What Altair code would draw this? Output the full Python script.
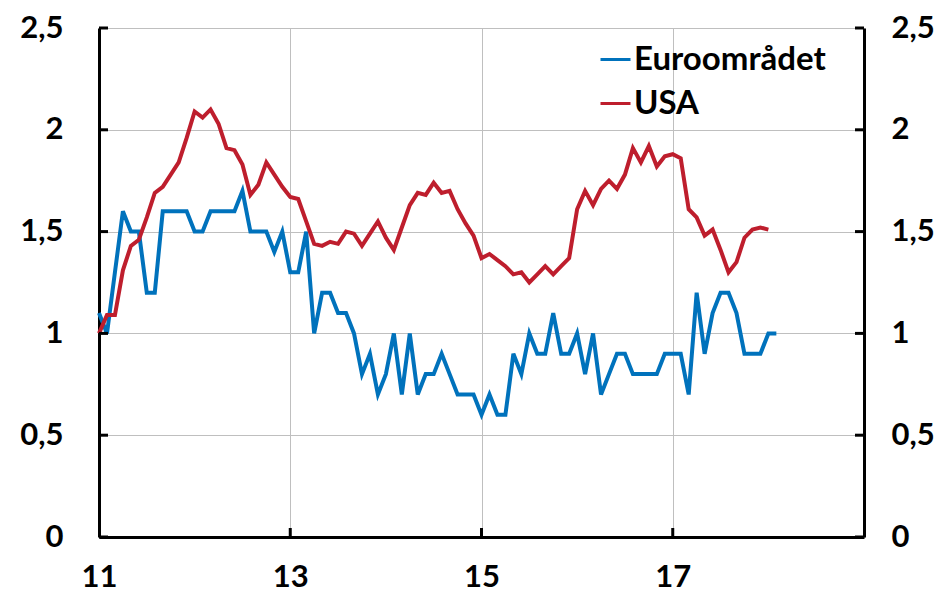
import altair as alt
import pandas as pd

# Monthly values, Jan 2011 onwards
euro = [1.1, 1.0, 1.3, 1.6, 1.5, 1.5, 1.2, 1.2, 1.6, 1.6, 1.6, 1.6,
        1.5, 1.5, 1.6, 1.6, 1.6, 1.6, 1.7, 1.5, 1.5, 1.5, 1.4, 1.5,
        1.3, 1.3, 1.5, 1.0, 1.2, 1.2, 1.1, 1.1, 1.0, 0.8, 0.9, 0.7,
        0.8, 1.0, 0.7, 1.0, 0.7, 0.8, 0.8, 0.9, 0.8, 0.7, 0.7, 0.7,
        0.6, 0.7, 0.6, 0.6, 0.9, 0.8, 1.0, 0.9, 0.9, 1.1, 0.9, 0.9,
        1.0, 0.8, 1.0, 0.7, 0.8, 0.9, 0.9, 0.8, 0.8, 0.8, 0.8, 0.9,
        0.9, 0.9, 0.7, 1.2, 0.9, 1.1, 1.2, 1.2, 1.1, 0.9, 0.9, 0.9,
        1.0, 1.0]
usa = [1.00, 1.09, 1.09, 1.31, 1.43, 1.46, 1.57, 1.69, 1.72, 1.78, 1.84, 1.96,
       2.09, 2.06, 2.10, 2.03, 1.91, 1.90, 1.83, 1.68, 1.73, 1.84, 1.78, 1.72,
       1.67, 1.66, 1.55, 1.44, 1.43, 1.45, 1.44, 1.50, 1.49, 1.43, 1.49, 1.55,
       1.47, 1.41, 1.52, 1.63, 1.69, 1.68, 1.74, 1.69, 1.70, 1.61, 1.54, 1.48,
       1.37, 1.39, 1.36, 1.33, 1.29, 1.30, 1.25, 1.29, 1.33, 1.29, 1.33, 1.37,
       1.61, 1.70, 1.63, 1.71, 1.75, 1.71, 1.78, 1.91, 1.84, 1.92, 1.82, 1.87,
       1.88, 1.86, 1.61, 1.57, 1.48, 1.51, 1.41, 1.30, 1.35, 1.47, 1.51, 1.52,
       1.51]
series_names = ["Euroområdet", "USA"]
colors = ["#0072BC", "#BE1E2D"]
x_ticks = [11, 13, 15, 17]
x_inner_ticks = [13, 15, 17]
y_ticks = [0, 0.5, 1, 1.5, 2, 2.5]
start_year = 11

rows = []
for name, vals in zip(series_names, [euro, usa]):
    for i, v in enumerate(vals):
        rows.append({"x": start_year + i / 12, "v": v, "s": name})
df = pd.DataFrame(rows)
ytick_df = pd.DataFrame({"v": y_ticks})
xtick_df = pd.DataFrame({"x": x_inner_ticks})

W, H = 765, 509
TL = 9  # inward tick length
FONT = "Lato"
FS = 31
LFS = 33
xs = alt.Scale(domain=[11, 19], nice=False, zero=False)
ys = alt.Scale(domain=[0, 2.5], nice=False, zero=True)
lab_expr = "replace(toString(datum.value), '.', ',')"

x_axis = alt.Axis(
    orient="bottom", values=x_ticks, format="d", title=None,
    grid=True, gridColor="#BFBFBF", gridWidth=1,
    domain=True, domainColor="black", domainWidth=3,
    ticks=False, tickSize=0, labelPadding=25, labelFlush=False,
    labelFont=FONT, labelFontSize=FS, labelFontWeight="bold", labelColor="black")

main = alt.Chart(df).mark_line(strokeWidth=4).encode(
    x=alt.X("x:Q", scale=xs, axis=x_axis),
    y=alt.Y("v:Q", scale=ys, axis=alt.Axis(
        orient="left", values=y_ticks, labelExpr=lab_expr, title=None,
        grid=True, gridColor="#BFBFBF", gridWidth=1,
        domain=True, domainColor="black", domainWidth=3,
        ticks=False, tickSize=0, labelPadding=36, labelFlush=False,
        labelFont=FONT, labelFontSize=FS, labelFontWeight="bold", labelColor="black")),
    color=alt.Color("s:N", scale=alt.Scale(domain=series_names, range=colors),
                    legend=alt.Legend(
                        title=None, orient="none", legendX=500, legendY=15,
                        symbolType="stroke", symbolStrokeWidth=3, symbolSize=900,
                        labelFont=FONT, labelFontSize=LFS, labelFontWeight="bold",
                        labelColor="black", rowPadding=10, labelOffset=2,
                        labelLimit=0)),
)

right = alt.Chart(df).mark_line(opacity=0).encode(
    x=alt.X("x:Q", scale=xs, axis=x_axis),
    y=alt.Y("v:Q", scale=ys, axis=alt.Axis(
        orient="right", values=y_ticks, labelExpr=lab_expr, title=None,
        grid=False, domain=True, domainColor="black", domainWidth=3,
        ticks=False, tickSize=0, labelPadding=27, labelFlush=False,
        labelFont=FONT, labelFontSize=FS, labelFontWeight="bold", labelColor="black")),
    detail="s:N",
)

left_ticks = alt.Chart(ytick_df).mark_rule(color="black", strokeWidth=3).encode(
    y=alt.Y("v:Q", scale=ys, axis=None),
    x=alt.value(0), x2=alt.value(TL),
)
right_ticks = alt.Chart(ytick_df).mark_rule(color="black", strokeWidth=3).encode(
    y=alt.Y("v:Q", scale=ys, axis=None),
    x=alt.value(W - TL), x2=alt.value(W),
)
bottom_ticks = alt.Chart(xtick_df).mark_rule(color="black", strokeWidth=3).encode(
    x=alt.X("x:Q", scale=xs, axis=x_axis),
    y=alt.value(H - TL), y2=alt.value(H),
)

chart = alt.layer(main, right, left_ticks, right_ticks, bottom_ticks).resolve_scale(
    y="independent"
).properties(
    width=W, height=H,
    autosize=alt.AutoSizeParams(type="none"),
    padding={"left": 91, "top": 20, "right": 71, "bottom": 59},
).configure_view(stroke=None)

chart.save("out.html", embed_options={"renderer": "svg", "actions": False})
